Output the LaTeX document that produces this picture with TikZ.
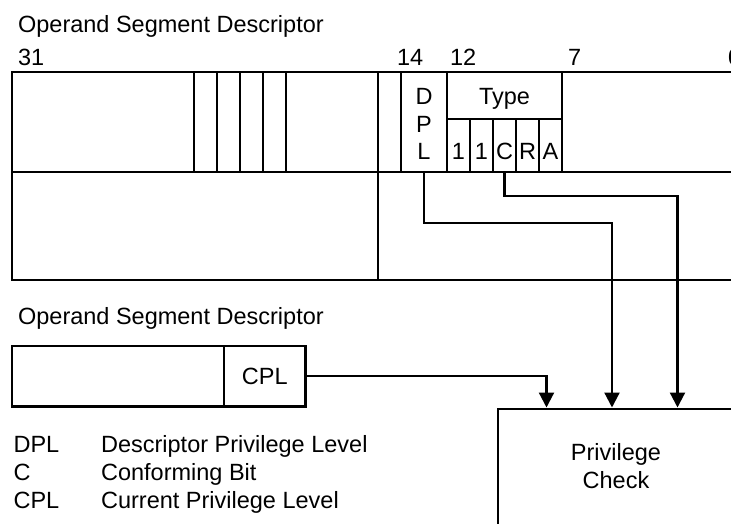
\documentclass[tikz,border=0pt]{standalone}
\usepackage{fontspec}
\setmainfont{Liberation Sans}
\usetikzlibrary{arrows.meta}
\begin{document}
\begin{tikzpicture}[x=1pt,y=-1pt, line width=2.2pt, line join=miter,
  txt/.style={inner sep=0pt, font=\fontsize{23.5}{28}\selectfont},
  ttl/.style={inner sep=0pt, anchor=base west, font=\fontsize{23.5}{28}\selectfont},
  field/.style={inner sep=0pt, minimum width=#1, draw=none},
  conn/.style={line width=2.2pt, -{Triangle[length=15pt,width=15pt]}}]
\useasboundingbox (0,0) rectangle (731,524);
\clip (0,0) rectangle (731,524);

% first title and bit numbers
\node[ttl] (t1) at (17,33) {Operand Segment Descriptor};
\node[txt, anchor=base west] (b31) at (17,65.5) {31};
\node[txt, anchor=base west] (b14) at (396,65.5) {14};
\node[txt, anchor=base west] (b12) at (449,65.5) {12};
\node[txt, anchor=base west] (b7) at (567,65.5) {7};
\node[txt, anchor=base west] (b0) at (727,65.5) {0};

% descriptor frame
\draw (745,72) -- (12,72) -- (12,280) -- (745,280);
\draw (12,172) -- (745,172);
\foreach \x in {194,217,240,263,286,401,447,562} \draw (\x,72) -- (\x,172);
\draw (378,72) -- (378,280);
\draw (447,119) -- (562,119);
\foreach \x in {470,493,516,539} \draw (\x,119) -- (\x,172);

% field anchors
\node[field=46pt, minimum height=100pt] (dpl) at (424,122) {};
\node[field=23pt, minimum height=53pt] (cbit) at (504.5,145.5) {};

% field texts
\node[txt, anchor=base] (dD) at (424,105) {D};
\node[txt, anchor=base] (dP) at (424,133) {P};
\node[txt, anchor=base] (dL) at (424,160) {L};
\node[txt, anchor=base] (type) at (504.5,105) {Type};
\node[txt, anchor=base] (s12) at (458.5,160) {1};
\node[txt, anchor=base] (s11) at (481.5,160) {1};
\node[txt, anchor=base] (sC) at (504.5,160) {C};
\node[txt, anchor=base] (sR) at (527.5,160) {R};
\node[txt, anchor=base] (sA) at (550.5,160) {A};

% second title and CPL box
\node[ttl] (t2) at (17,324) {Operand Segment Descriptor};
\draw (12,346) rectangle (305.5,406.5);
\draw (224,346) -- (224,406.5);
\node[txt, minimum width=81.5pt, minimum height=60.5pt] (cpl) at (264.75,376.25) {CPL};

% privilege check box
\node[draw, anchor=north west, inner sep=0pt, minimum width=260pt, minimum height=140pt] (pc) at (497,407.5) {};
\node[txt, anchor=base] (pc1) at (616,460) {Privilege};
\node[txt, anchor=base] (pc2) at (616,488) {Check};
\coordinate (pin1) at (546.5,407.5);
\coordinate (pin2) at (612,407.5);
\coordinate (pin3) at (677.5,407.5);

% connectors
\draw[conn] (cpl.east) -| (pin1);
\draw[conn] (dpl.south) -- ++(0,50) -| (pin2);
\draw[conn] (cbit.south) -- ++(0,23) -| (pin3);

% legend
\node[txt, anchor=base west] (l1) at (12.5,452) {DPL};
\node[txt, anchor=base west] (l1d) at (100,452) {Descriptor Privilege Level};
\node[txt, anchor=base west] (l2) at (12.5,480) {C};
\node[txt, anchor=base west] (l2d) at (100,480) {Conforming Bit};
\node[txt, anchor=base west] (l3) at (12.5,508) {CPL};
\node[txt, anchor=base west] (l3d) at (100,508) {Current Privilege Level};
\end{tikzpicture}
\end{document}
